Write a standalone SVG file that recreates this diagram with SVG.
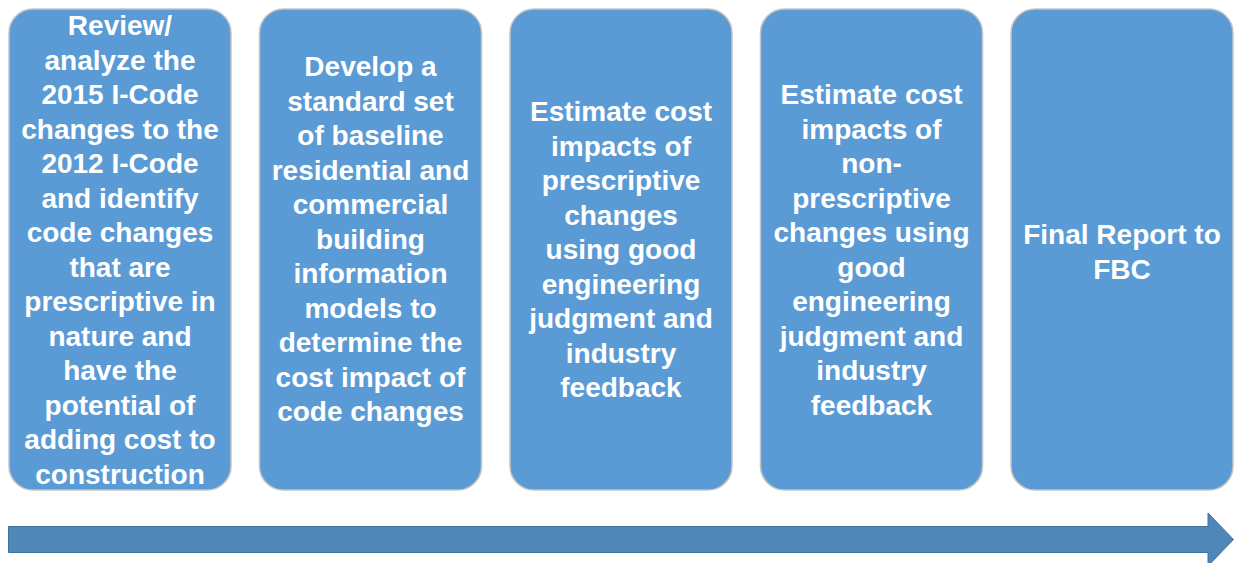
<svg xmlns="http://www.w3.org/2000/svg" width="1238" height="563" viewBox="0 0 1238 563">
<style>
.box{fill:#5B9BD5;stroke:#C3C3C3;stroke-width:1.5}
.t{font-family:"Liberation Sans",Arial,sans-serif;font-weight:bold;font-size:28px;fill:#FFFFFF;text-anchor:middle}
.arrow{fill:#4F87B9;stroke:#41719C;stroke-width:1}
</style>
<rect width="1238" height="563" fill="#FFFFFF"/>
<g id="node1">
<rect class="box" x="9" y="9" width="222" height="481" rx="24"/>
<text class="t"><tspan x="120" y="35">Review/</tspan><tspan x="120" y="69.5">analyze the</tspan><tspan x="120" y="104">2015 I-Code</tspan><tspan x="120" y="138.5">changes to the</tspan><tspan x="120" y="173">2012 I-Code</tspan><tspan x="120" y="207.5">and identify</tspan><tspan x="120" y="242">code changes</tspan><tspan x="120" y="276.5">that are</tspan><tspan x="120" y="311">prescriptive in</tspan><tspan x="120" y="345.5">nature and</tspan><tspan x="120" y="380">have the</tspan><tspan x="120" y="414.5">potential of</tspan><tspan x="120" y="449">adding cost to</tspan><tspan x="120" y="483.5">construction</tspan></text>
</g>
<g id="node2">
<rect class="box" x="259.5" y="9" width="222" height="481" rx="24"/>
<text class="t"><tspan x="370.5" y="76">Develop a</tspan><tspan x="370.5" y="110.5">standard set</tspan><tspan x="370.5" y="145">of baseline</tspan><tspan x="370.5" y="179.5">residential and</tspan><tspan x="370.5" y="214">commercial</tspan><tspan x="370.5" y="248.5">building</tspan><tspan x="370.5" y="283">information</tspan><tspan x="370.5" y="317.5">models to</tspan><tspan x="370.5" y="352">determine the</tspan><tspan x="370.5" y="386.5">cost impact of</tspan><tspan x="370.5" y="421">code changes</tspan></text>
</g>
<g id="node3">
<rect class="box" x="510" y="9" width="222" height="481" rx="24"/>
<text class="t"><tspan x="621" y="121">Estimate cost</tspan><tspan x="621" y="155.5">impacts of</tspan><tspan x="621" y="190">prescriptive</tspan><tspan x="621" y="224.5">changes</tspan><tspan x="621" y="259">using good</tspan><tspan x="621" y="293.5">engineering</tspan><tspan x="621" y="328">judgment and</tspan><tspan x="621" y="362.5">industry</tspan><tspan x="621" y="397">feedback</tspan></text>
</g>
<g id="node4">
<rect class="box" x="760.5" y="9" width="222" height="481" rx="24"/>
<text class="t"><tspan x="871.5" y="104">Estimate cost</tspan><tspan x="871.5" y="138.5">impacts of</tspan><tspan x="871.5" y="173">non-</tspan><tspan x="871.5" y="207.5">prescriptive</tspan><tspan x="871.5" y="242">changes using</tspan><tspan x="871.5" y="276.5">good</tspan><tspan x="871.5" y="311">engineering</tspan><tspan x="871.5" y="345.5">judgment and</tspan><tspan x="871.5" y="380">industry</tspan><tspan x="871.5" y="414.5">feedback</tspan></text>
</g>
<g id="node5">
<rect class="box" x="1011" y="9" width="222" height="481" rx="24"/>
<text class="t"><tspan x="1122" y="244">Final Report to</tspan><tspan x="1122" y="278.5">FBC</tspan></text>
</g>
<g id="connectors">
<path class="arrow" d="M8.5,526.5 H1208 V513 L1233.5,539.5 L1208,566 V552.5 H8.5 Z"/>
</g>
</svg>
